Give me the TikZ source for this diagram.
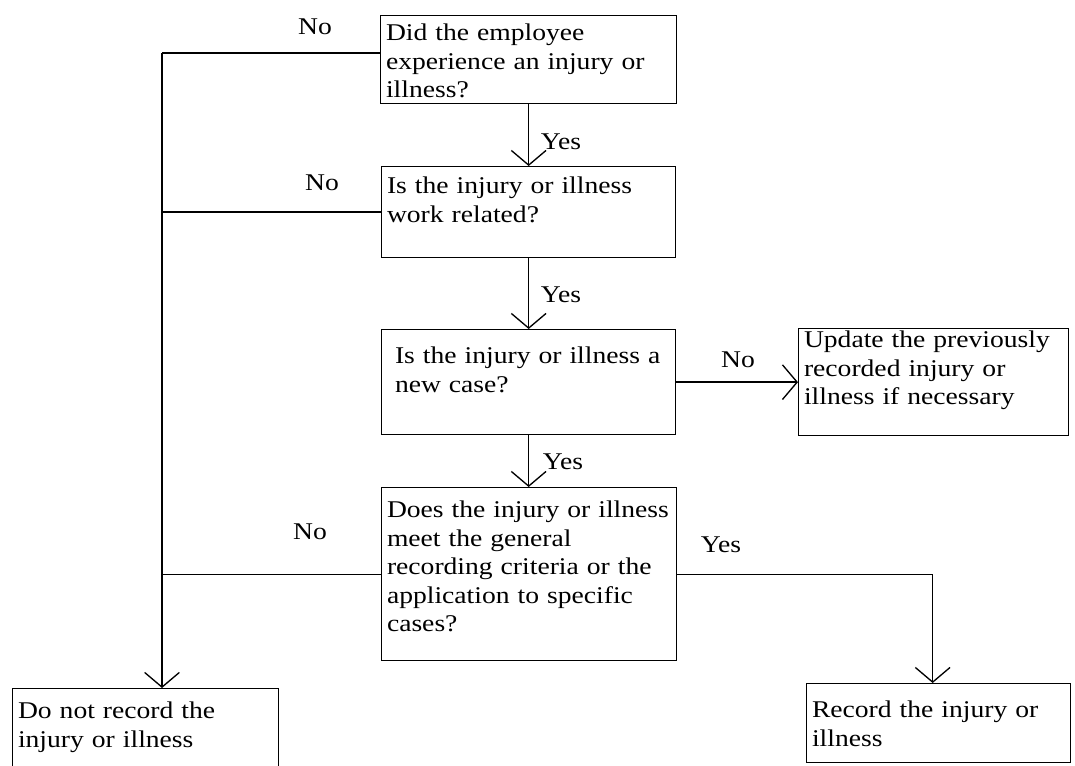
\documentclass[tikz,border=0pt]{standalone}
\usepackage{fontspec}
\setmainfont{Liberation Serif}[FakeStretch=1.15]
\usetikzlibrary{arrows.meta}

\tikzset{
  qbox/.style={draw, line width=1pt, anchor=north west, align=left, inner xsep=4pt, inner ysep=0pt},
  flow/.style={line width=1pt, -{Straight Barb[length=11pt,width=26pt]}},
  link/.style={line width=1pt},
  answer/.style={inner sep=0pt}
}

\begin{document}
\begin{tikzpicture}[x=0.75pt,y=0.75pt,yscale=-1,xscale=1,font=\fontsize{18}{21.4}\selectfont]
\useasboundingbox (0,0) rectangle (1075,766);

\draw (380,15) node [qbox, text width=214pt, text height=18.75pt, text depth=47.25pt] (q1) {Did the employee\\experience an injury or\\illness?};
\draw (381,166) node [qbox, text width=212.5pt, text height=20.25pt, text depth=48pt] (q2) {Is the injury or illness\\work related?};
\draw (381,329) node [qbox, inner xsep=10pt, text width=200.5pt, text height=25.5pt, text depth=53.25pt] (q3) {Is the injury or illness a\\new case?};
\draw (381,487) node [qbox, text width=213.25pt, text height=22.5pt, text depth=107.25pt] (q4) {Does the injury or illness\\meet the general\\recording criteria or the\\application to specific\\cases?};
\draw (798,328) node [qbox, text width=194.5pt, text height=14.25pt, text depth=66pt] (upd) {Update the previously\\recorded injury or\\illness if necessary};
\draw (12,688) node [qbox, text width=191.5pt, text height=22.5pt, text depth=52.5pt] (norec) {Do not record the\\injury or illness};
\draw (806,683) node [qbox, text width=190pt, text height=25.5pt, text depth=33.75pt] (rec) {Record the injury or\\illness};

\coordinate (trunk) at (162,53);
\draw [link] (q1.west |- trunk) -- (trunk);
\draw [link] (q2.west) -- (q2.west -| trunk);
\draw [link] (q4.west) -- (q4.west -| trunk);
\draw [flow] (trunk) -- (trunk |- norec.north);

\draw [flow] (q1.south) -- (q1.south |- q2.north);
\draw [flow] (q2.south) -- (q2.south |- q3.north);
\draw [flow] (q3.south) -- (q3.south |- q4.north);
\draw [flow] (q3.east) -- (upd.west);
\draw [flow] (q4.east) -| ([xshift=-4.5pt]rec.north);

\draw (315,27) node [answer] (no1) {No};
\draw (322,183) node [answer] (no2) {No};
\draw (738,360) node [answer] (no3) {No};
\draw (310,532) node [answer] (no4) {No};
\draw (561,142) node [answer] (yes1) {Yes};
\draw (561,295) node [answer] (yes2) {Yes};
\draw (563,462) node [answer] (yes3) {Yes};
\draw (721,545) node [answer] (yes4) {Yes};
\end{tikzpicture}
\end{document}
